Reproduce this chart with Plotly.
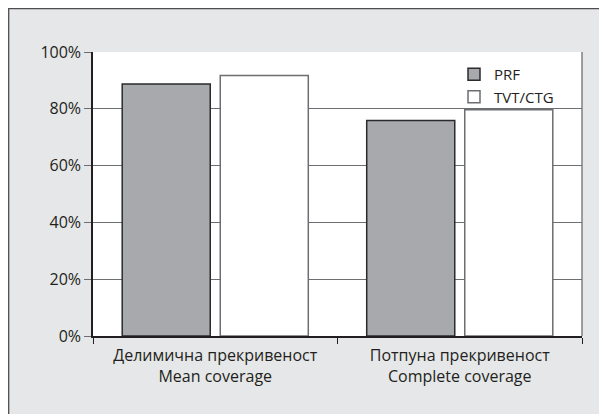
import plotly.graph_objects as go

categories = ["Делимична прекривеност<br>Mean coverage", "Потпуна прекривеност<br>Complete coverage"]
series_names = ["PRF", "TVT/CTG"]
prf_values = [88.7, 75.9]
tvt_values = [91.7, 79.7]
y_ticks = [0, 20, 40, 60, 80, 100]
y_tick_labels = ["0%", "20%", "40%", "60%", "80%", "100%"]

FONT = "Open Sans"
DARK = "#231f20"
GRID = "#6d6e71"

W, H = 599, 406
L, R, T, B = 85, 25, 44, 78
PW, PH = W - L - R, H - T - B

fig = go.Figure()
fig.add_trace(go.Bar(
    x=categories, y=prf_values, name=series_names[0],
    marker=dict(color="#a7a9ac", line=dict(color="#2b2b2b", width=1.5)),
))
fig.add_trace(go.Bar(
    x=categories, y=tvt_values, name=series_names[1],
    marker=dict(color="#ffffff", line=dict(color="#6d6e71", width=1.5)),
))

# outer framed panel and white plot area
fig.add_shape(type="rect", xref="paper", yref="paper",
              x0=(0.7 - L) / PW, x1=(W + 40 - L) / PW,
              y0=(PH - (H + 40 - T)) / PH, y1=(PH + T - 0.7) / PH,
              fillcolor="#e6e7e8", line=dict(color="#4d4d4f", width=1.3), layer="below")
fig.add_shape(type="rect", xref="paper", yref="paper", x0=0, x1=1, y0=0, y1=1,
              fillcolor="#ffffff", line=dict(width=0), layer="below")
fig.add_shape(type="line", xref="paper", yref="paper", x0=1, x1=1, y0=0, y1=1,
              line=dict(color=GRID, width=1.3), layer="below")

fig.update_layout(
    width=W, height=H,
    margin=dict(l=L, r=R, t=T, b=B),
    paper_bgcolor="#ffffff",
    plot_bgcolor="#ffffff",
    font=dict(family=FONT, size=16, color=DARK),
    barmode="group",
    bargap=0.198,
    bargroupgap=0.102,
    showlegend=True,
    legend=dict(x=(446 - L) / PW, xanchor="left", y=(PH + T - 50) / PH, yanchor="top",
                bgcolor="rgba(0,0,0,0)", font=dict(size=15, family=FONT, color=DARK),
                tracegroupgap=0, traceorder="normal"),
    xaxis=dict(
        showgrid=False, showline=True, linecolor=DARK, linewidth=1.5,
        ticks="outside", tickson="boundaries", ticklen=6, tickcolor=DARK, tickwidth=1.2,
        ticklabelstandoff=4,
        tickfont=dict(size=16, family=FONT, color=DARK),
    ),
    yaxis=dict(
        range=[0, 100], tickvals=y_ticks, ticktext=y_tick_labels,
        showgrid=True, gridcolor=GRID, gridwidth=1.3,
        showline=True, linecolor=DARK, linewidth=1.5,
        ticks="outside", ticklen=7, tickcolor=GRID, tickwidth=1.3,
        tickfont=dict(size=16, family=FONT, color=DARK),
        zeroline=False,
    ),
)

fig.write_html("out.html")
